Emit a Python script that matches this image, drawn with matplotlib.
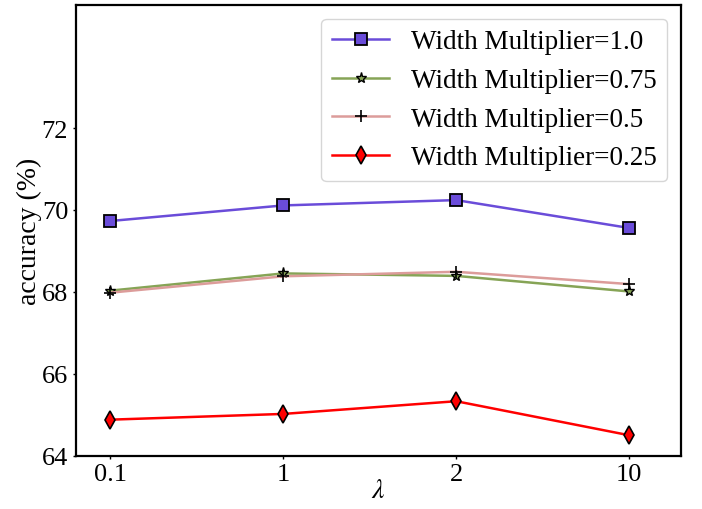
import numpy as np
import matplotlib
matplotlib.use('Agg')
import matplotlib.pyplot as plt

plt.rcParams['font.family'] = 'serif'
plt.rcParams['font.serif'] = ['Liberation Serif', 'DejaVu Serif']
plt.rcParams['mathtext.fontset'] = 'stix'

lambdas = ['0.1', '1', '2', '10']
acc_100 = [69.73, 70.11, 70.24, 69.56]
acc_075 = [68.03, 68.45, 68.39, 68.01]
acc_050 = [67.98, 68.38, 68.49, 68.19]
acc_025 = [64.88, 65.02, 65.33, 64.50]

x = np.arange(len(lambdas))

fig = plt.figure(figsize=(7.02, 5.10), dpi=100)
ax = fig.add_axes([0.108, 0.1045, 0.862, 0.8835])

ax.plot(x, acc_100, color='#6a4cd9', lw=1.8, marker='s', markersize=8,
        markerfacecolor='#6a4cd9', markeredgecolor='black', markeredgewidth=1.3,
        label='Width Multiplier=1.0')
ax.plot(x, acc_075, color='#86a456', lw=1.8, marker='*', markersize=8,
        markerfacecolor='#86a456', markeredgecolor='black', markeredgewidth=1.0,
        label='Width Multiplier=0.75')
ax.plot(x, acc_050, color='#dc9c9a', lw=1.8, marker='+', markersize=9,
        markeredgecolor='black', markeredgewidth=1.2,
        label='Width Multiplier=0.5')
ax.plot(x, acc_025, color='red', lw=1.8, marker='d', markersize=9,
        markerfacecolor='red', markeredgecolor='black', markeredgewidth=1.2,
        label='Width Multiplier=0.25')

ax.set_xlim(-0.2, 3.3)
ax.set_ylim(64, 75)
ax.set_xticks(x)
ax.set_xticklabels(lambdas)
ax.set_yticks([64, 66, 68, 70, 72])
ax.tick_params(labelsize=19, length=2, width=1)
for s in ax.spines.values():
    s.set_linewidth(1.6)

ax.set_xlabel(r'$\lambda$', fontsize=20, labelpad=-5)
ax.set_ylabel('accuracy (%)', fontsize=20, labelpad=0)

ax.legend(loc='upper right', fontsize=19.5, handlelength=2.1)

plt.savefig('out.png', dpi=100)
